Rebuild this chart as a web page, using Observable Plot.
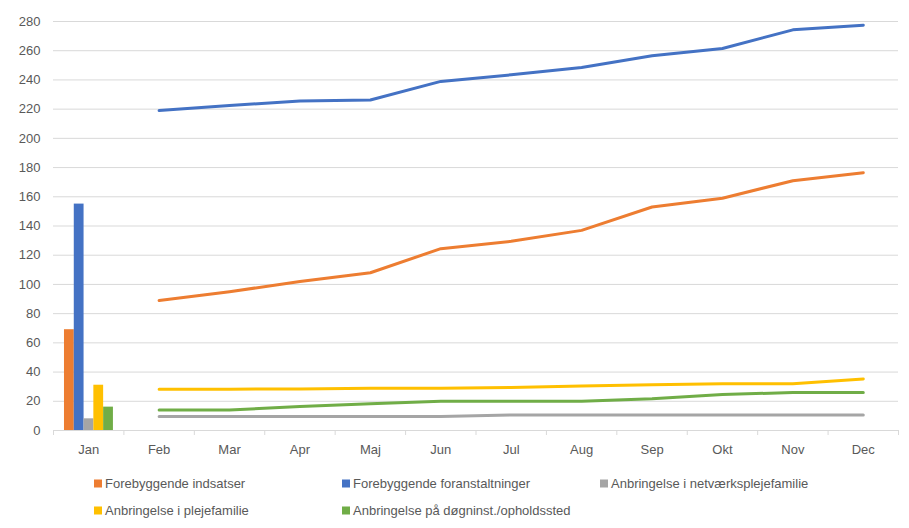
<!DOCTYPE html>
<html><head><meta charset="utf-8">
<script src="https://cdn.jsdelivr.net/npm/d3@7"></script>
<script src="https://cdn.jsdelivr.net/npm/@observablehq/plot@0.6"></script>
<style>
body{margin:0;background:#fff;font-family:"Liberation Sans",sans-serif}
#wrap{position:relative;width:909px;height:528px;overflow:hidden}
.leg{position:absolute;font-size:13px;color:#595959;display:flex;align-items:center;white-space:nowrap;transform:translateY(-50%)}
.sw{width:8px;height:8px;margin-right:3px;flex:none}
</style></head>
<body><div id="wrap"></div>
<script>
const months = ["Jan","Feb","Mar","Apr","Maj","Jun","Jul","Aug","Sep","Okt","Nov","Dec"];
const seriesNames = ["Forebyggende indsatser","Forebyggende foranstaltninger","Anbringelse i netværksplejefamilie","Anbringelse i plejefamilie","Anbringelse på døgninst./opholdssted"];
const seriesColors = ["#ED7D31","#4472C4","#A5A5A5","#FFC000","#70AD47"];
const forebyggendeIndsatser = [69, 89, 95, 102, 108, 124.5, 129.5, 137, 153, 159, 171, 176.5];
const forebyggendeForanstaltninger = [155, 219, 222.5, 225.5, 226.3, 239, 243.5, 248.5, 256.5, 261.5, 274.3, 277.5];
const netvaerksplejefamilie = [8, 9.6, 9.6, 9.6, 9.6, 9.6, 10.6, 10.6, 10.6, 10.6, 10.6, 10.6];
const plejefamilie = [31, 28.3, 28.3, 28.4, 29, 29, 29.5, 30.5, 31.3, 32, 32, 35.3];
const doegninst = [16, 14, 14, 16.4, 18.3, 20, 20, 20, 21.7, 24.6, 26, 26];
const yTicks = [0,20,40,60,80,100,120,140,160,180,200,220,240,260,280];

const allSeries = [forebyggendeIndsatser, forebyggendeForanstaltninger, netvaerksplejefamilie, plejefamilie, doegninst];

// Jan as clustered bars, Feb–Dec as lines
const barGroupStart = 0.156, barW = 0.139;
const bars = allSeries.map((vals, k) => ({
  series: seriesNames[k], value: vals[0],
  x1: 0 + barGroupStart + k * barW, x2: 0 + barGroupStart + (k + 1) * barW
}));
const lines = [];
allSeries.forEach((vals, k) => {
  for (let i = 1; i < months.length; i++) lines.push({series: seriesNames[k], x: i + 0.5, value: vals[i]});
});

const plot = Plot.plot({
  width: 909, height: 460,
  marginLeft: 53, marginRight: 11, marginTop: 21, marginBottom: 30,
  style: {fontFamily: "Liberation Sans, sans-serif", fontSize: "13px", color: "#595959", background: "#fff"},
  x: {type: "linear", domain: [0, 12], axis: null},
  y: {domain: [0, 280], axis: null},
  color: {domain: seriesNames, range: seriesColors},
  marks: [
    Plot.gridY(yTicks.filter(d => d > 0), {stroke: "#d9d9d9", strokeOpacity: 1, strokeWidth: 1}),
    Plot.axisY({ticks: yTicks, tickSize: 0, tickPadding: 13, fontSize: 13, fill: "#595959", label: null}),
    Plot.rectY(bars, {x1: "x1", x2: "x2", y: "value", fill: "series"}),
    Plot.line(lines, {x: "x", y: "value", z: "series", stroke: "series", strokeWidth: 3, strokeLinecap: "round", strokeLinejoin: "round"}),
    Plot.ruleY([0], {stroke: "#d9d9d9", strokeWidth: 1}),
    Plot.axisX({ticks: d3.range(13), tickFormat: () => "", tickSize: 5, stroke: "#d9d9d9", strokeOpacity: 1, label: null}),
    Plot.axisX({ticks: d3.range(12).map(i => i + 0.5), tickFormat: d => months[Math.floor(d)], tickSize: 0, tickPadding: 14, fontSize: 13, fill: "#595959", label: null})
  ]
});
const wrap = document.getElementById("wrap");
wrap.appendChild(plot);

const legendPos = [[94, 483], [342, 483], [600, 483], [94, 510], [342, 510]];
seriesNames.forEach((name, k) => {
  const d = document.createElement("div");
  d.className = "leg";
  d.style.left = legendPos[k][0] + "px";
  d.style.top = legendPos[k][1] + "px";
  d.innerHTML = `<span class="sw" style="background:${seriesColors[k]}"></span><span>${name}</span>`;
  wrap.appendChild(d);
});
</script></body></html>
